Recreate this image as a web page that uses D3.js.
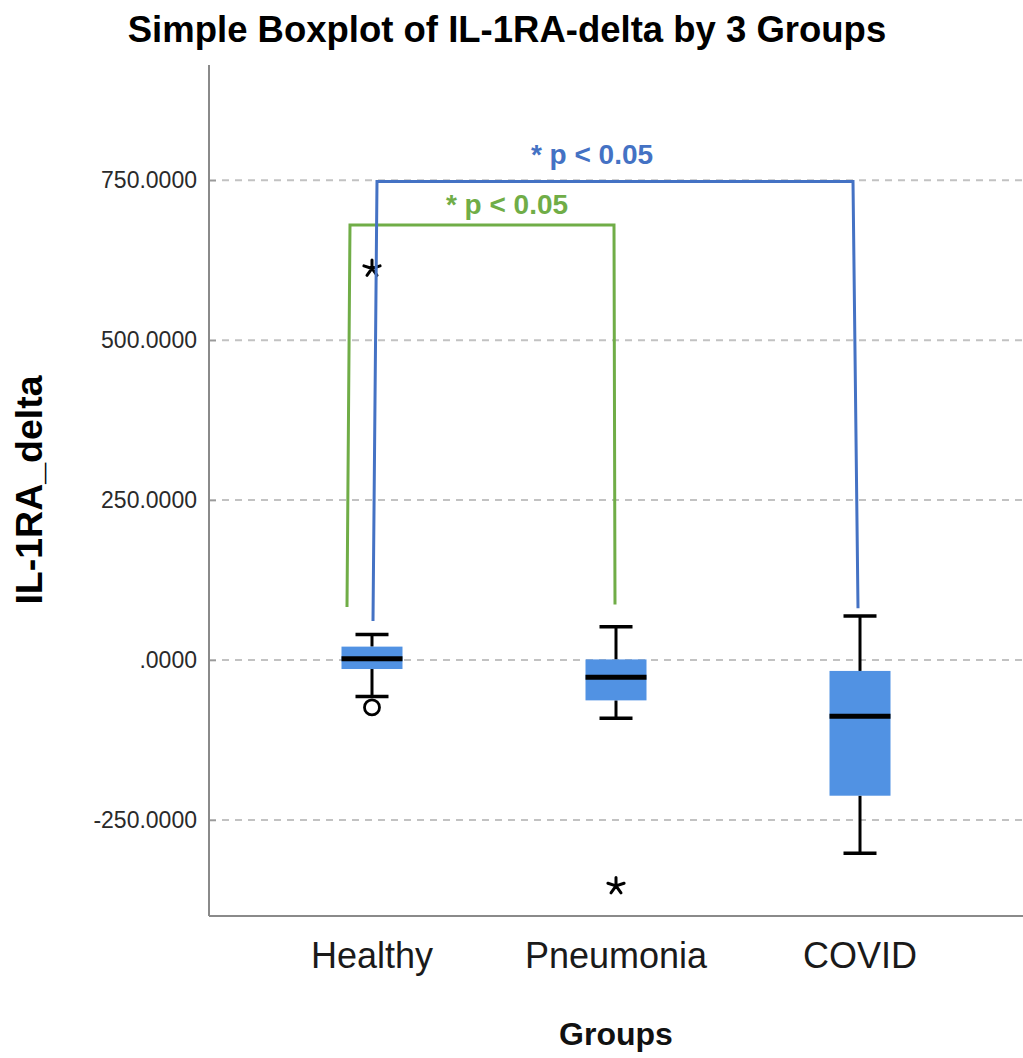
<!DOCTYPE html>
<html>
<head>
<meta charset="utf-8">
<script src="https://cdn.jsdelivr.net/npm/d3@7"></script>
<style>
  html, body { margin: 0; padding: 0; background: #fff; }
  svg { display: block; font-family: "Liberation Sans", Arial, sans-serif; }
</style>
</head>
<body>
<svg id="chart" width="1023" height="1058"></svg>
<script>
// ---- data ----
const groups = ["Healthy", "Pneumonia", "COVID"];
const q1 = [-14, -63, -212];
const median = [2, -27, -88];
const q3 = [21, 1, -17];
const whiskerLow = [-57, -91, -302];
const whiskerHigh = [40, 52, 69];

// outliers (circle) and extreme values (asterisk)
const outlierGroups = ["Healthy"];
const outlierValues = [-74];
const extremeGroups = ["Healthy", "Pneumonia"];
const extremeValues = [612, -353];

const yTicks = [-250, 0, 250, 500, 750];
const yTickLabels = ["-250.0000", ".0000", "250.0000", "500.0000", "750.0000"];

// significance brackets
const bracketFrom = ["Healthy", "Healthy"];
const bracketTo = ["Pneumonia", "COVID"];
const bracketTop = [680, 748];
const bracketFromEnd = [83, 61];
const bracketToEnd = [87, 81];
const bracketLabels = ["* p < 0.05", "* p < 0.05"];

// ---- layout ----
const plot = { left: 209, right: 1023, top: 65, bottom: 916 };
const boxColor = "#5192e3";
const bracketColors = ["#70ad47", "#4472c4"];

const svg = d3.select("#chart");

const x = d3.scalePoint().domain(groups).range([plot.left, plot.right]).padding(0.668);
const y = d3.scaleLinear().domain([-400, 930]).range([plot.bottom, plot.top]);

// grid lines
svg.append("g").selectAll("line").data(yTicks).join("line")
  .attr("x1", plot.left).attr("x2", plot.right)
  .attr("y1", d => y(d)).attr("y2", d => y(d))
  .attr("stroke", "#c2c2c2").attr("stroke-width", 2)
  .attr("stroke-dasharray", "7,6");

// y axis
const yAxis = d3.axisLeft(y).tickValues(yTicks)
  .tickFormat((d, i) => yTickLabels[i])
  .tickSize(-7).tickPadding(12);
const gy = svg.append("g").attr("transform", `translate(${plot.left},0)`).call(yAxis);
gy.select(".domain").remove();
gy.selectAll(".tick line").attr("stroke", "#9a9a9a").attr("stroke-width", 1.5);
gy.selectAll(".tick text").attr("font-size", 23).attr("fill", "#2a2a2a")
  .attr("font-family", "'Liberation Sans', Arial, sans-serif");
svg.append("line").attr("x1", plot.left).attr("x2", plot.left)
  .attr("y1", plot.top).attr("y2", plot.bottom)
  .attr("stroke", "#8a8a8a").attr("stroke-width", 2);

// x axis
svg.append("line").attr("x1", plot.left).attr("x2", plot.right)
  .attr("y1", plot.bottom).attr("y2", plot.bottom)
  .attr("stroke", "#8a8a8a").attr("stroke-width", 2);
svg.append("g").selectAll("text").data(groups).join("text")
  .attr("x", d => x(d)).attr("y", 968)
  .attr("text-anchor", "middle").attr("font-size", 36).attr("fill", "#1a1a1a")
  .text(d => d);

// boxes
const boxW = 61, capW = 33;
const boxes = svg.append("g").selectAll("g").data(groups).join("g");
boxes.append("line")
  .attr("x1", d => x(d)).attr("x2", d => x(d))
  .attr("y1", (d, i) => y(whiskerHigh[i])).attr("y2", (d, i) => y(q3[i]))
  .attr("stroke", "#000").attr("stroke-width", 3);
boxes.append("line")
  .attr("x1", d => x(d)).attr("x2", d => x(d))
  .attr("y1", (d, i) => y(q1[i])).attr("y2", (d, i) => y(whiskerLow[i]))
  .attr("stroke", "#000").attr("stroke-width", 3);
boxes.append("line")
  .attr("x1", d => x(d) - capW / 2).attr("x2", d => x(d) + capW / 2)
  .attr("y1", (d, i) => y(whiskerHigh[i])).attr("y2", (d, i) => y(whiskerHigh[i]))
  .attr("stroke", "#000").attr("stroke-width", 3.5);
boxes.append("line")
  .attr("x1", d => x(d) - capW / 2).attr("x2", d => x(d) + capW / 2)
  .attr("y1", (d, i) => y(whiskerLow[i])).attr("y2", (d, i) => y(whiskerLow[i]))
  .attr("stroke", "#000").attr("stroke-width", 3.5);
boxes.append("rect")
  .attr("x", d => x(d) - boxW / 2).attr("width", boxW)
  .attr("y", (d, i) => y(q3[i]))
  .attr("height", (d, i) => y(q1[i]) - y(q3[i]))
  .attr("fill", boxColor);
boxes.append("line")
  .attr("x1", d => x(d) - boxW / 2).attr("x2", d => x(d) + boxW / 2)
  .attr("y1", (d, i) => y(median[i])).attr("y2", (d, i) => y(median[i]))
  .attr("stroke", "#000").attr("stroke-width", 5);

// outliers
svg.append("g").selectAll("circle").data(outlierValues).join("circle")
  .attr("cx", (d, i) => x(outlierGroups[i])).attr("cy", d => y(d))
  .attr("r", 7.5).attr("fill", "#fff").attr("stroke", "#000").attr("stroke-width", 2.8);

// extreme values: five-armed asterisk
const asterisk5 = {
  draw(ctx, size) {
    const r = Math.sqrt(size) / 2;
    for (let k = 0; k < 5; k++) {
      const a = -Math.PI / 2 + k * 2 * Math.PI / 5;
      ctx.moveTo(0, 0);
      ctx.lineTo(r * Math.cos(a), r * Math.sin(a));
    }
  }
};
svg.append("g").selectAll("path").data(extremeValues).join("path")
  .attr("transform", (d, i) => `translate(${x(extremeGroups[i])},${y(d)})`)
  .attr("d", d3.symbol().type(asterisk5).size(290))
  .attr("fill", "none").attr("stroke", "#000").attr("stroke-width", 3)
  .attr("stroke-linecap", "round");

// significance brackets (hand-drawn, slightly slanted legs)
const legShift = [
  { fromBottom: -25, fromTop: -22, toTop: -2, toBottom: -1 },
  { fromBottom: 1, fromTop: 5, toTop: -7, toBottom: -2 }
];
const labelShift = [13, -24];
const labelRise = [11, 17];
const brackets = svg.append("g").selectAll("g").data(bracketLabels).join("g");
brackets.append("path")
  .attr("d", (d, i) => {
    const s = legShift[i];
    const p = d3.path();
    p.moveTo(x(bracketFrom[i]) + s.fromBottom, y(bracketFromEnd[i]));
    p.lineTo(x(bracketFrom[i]) + s.fromTop, y(bracketTop[i]));
    p.lineTo(x(bracketTo[i]) + s.toTop, y(bracketTop[i]));
    p.lineTo(x(bracketTo[i]) + s.toBottom, y(bracketToEnd[i]));
    return p.toString();
  })
  .attr("fill", "none").attr("stroke", (d, i) => bracketColors[i])
  .attr("stroke-width", 3).attr("stroke-linejoin", "miter");
brackets.append("text")
  .attr("x", (d, i) => (x(bracketFrom[i]) + x(bracketTo[i])) / 2 + labelShift[i])
  .attr("y", (d, i) => y(bracketTop[i]) - labelRise[i])
  .attr("text-anchor", "middle").attr("font-size", 28).attr("font-weight", "bold")
  .attr("fill", (d, i) => bracketColors[i])
  .text(d => d);

// titles
svg.append("text").attr("x", 507).attr("y", 42)
  .attr("text-anchor", "middle").attr("font-size", 36.5).attr("font-weight", "bold")
  .attr("fill", "#000").text("Simple Boxplot of IL-1RA-delta by 3 Groups");
svg.append("text").attr("transform", "translate(42,490) rotate(-90)")
  .attr("text-anchor", "middle").attr("font-size", 37.5).attr("font-weight", "bold")
  .attr("fill", "#000").text("IL-1RA_delta");
svg.append("text").attr("x", (plot.left + plot.right) / 2).attr("y", 1045)
  .attr("text-anchor", "middle").attr("font-size", 32).attr("font-weight", "bold")
  .attr("fill", "#111").text("Groups");
</script>
</body>
</html>
